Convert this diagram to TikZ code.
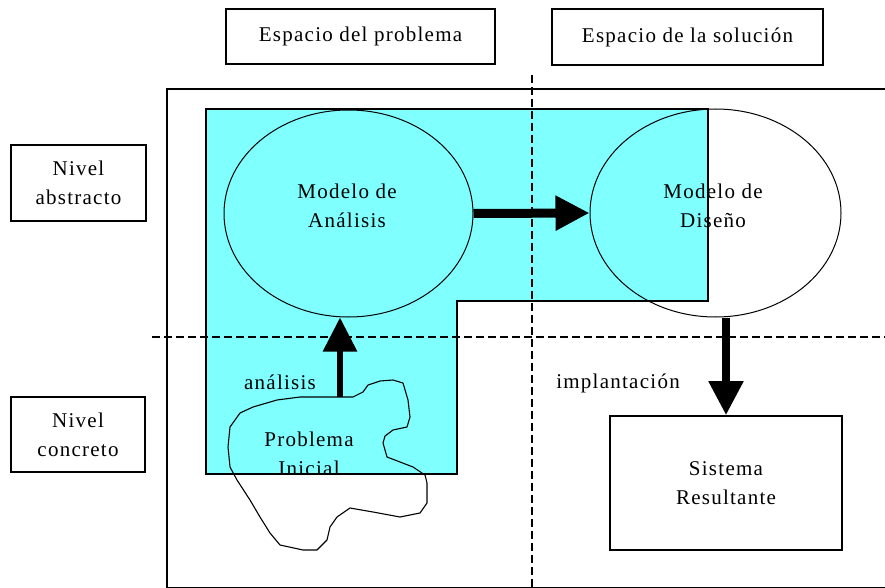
\documentclass[tikz,border=0pt]{standalone}
\usepackage{fontspec}
\setmainfont[LetterSpace=6]{Liberation Serif}
\usetikzlibrary{shapes.geometric,arrows.meta}
\definecolor{aqua}{RGB}{128,255,255}

\begin{document}
\begin{tikzpicture}[x=1pt,y=-1pt,
  txt/.style={font=\fontsize{21}{29}\selectfont, align=center, inner sep=0pt},
  headerbox/.style={draw, line width=1.6pt, inner sep=0pt, font=\fontsize{21}{29}\selectfont, align=center},
  oval/.style={draw, ellipse, line width=1pt, inner sep=0pt},
  grid line/.style={dashed, line width=1.2pt, dash pattern=on 8pt off 4pt},
  bigarrow/.style={-{Triangle[length=34pt,width=33pt]}}
]
\useasboundingbox (0,0) rectangle (885,588);

% outer frame of the diagram area
\draw[line width=1.5pt] (167,89) rectangle (892,588);

% problem-space region (shaded)
\fill[aqua] (206,109) -- (708,109) -- (708,301) -- (457,301) -- (457,474) -- (206,474) -- cycle;
\draw[line width=1.5pt] (206,109) -- (708,109) -- (708,301) -- (457,301) -- (457,474) -- (206,474) -- cycle;

% quadrant separators
\draw[grid line] (152,337) -- (885,337);
\draw[grid line] (532,75) -- (532,588);

% column headers
\node[headerbox, minimum width=269pt, minimum height=55pt] (hprob) at (360.5,36.5) {Espacio del problema};
\node[headerbox, minimum width=271pt, minimum height=56pt] (hsol) at (687.5,37) {Espacio de la solución};

% row headers
\node[headerbox, minimum width=135pt, minimum height=76pt] (habs) at (78.5,183) {Nivel\\abstracto};
\node[headerbox, minimum width=134pt, minimum height=75pt] (hcon) at (78,434.5) {Nivel\\concreto};

% models
\node[oval, minimum width=249pt, minimum height=207pt] (ana) at (348.5,213.5) {};
\node[oval, minimum width=251pt, minimum height=208pt] (dis) at (715.5,213) {};
\node[txt] (anat) at (347,206) {Modelo de\\Análisis};
\node[txt] (dist) at (713,206) {Modelo de\\Diseño};

% resulting system
\node[draw, line width=1.6pt, minimum width=232pt, minimum height=134pt, txt] (sis) at (726,483) {Sistema\\Resultante};

% initial problem (irregular outline)
\draw[line width=1.1pt, line join=round]
  (340,397) -- (353,397) -- (363,392) -- (368,385) -- (380,381) -- (393,380) -- (403,383)
  -- (408,400) -- (410,417) -- (407,427) -- (393,430) -- (385,436) -- (383,443) -- (387,457)
  -- (413,467) -- (425,475) -- (427,483) -- (427,503) -- (420,513) -- (400,517) -- (373,512)
  -- (350,508) -- (337,517) -- (330,527) -- (327,540) -- (317,550) -- (303,550) -- (280,545)
  -- (270,533) -- (260,517) -- (250,500) -- (237,480) -- (230,467) -- (228,447) -- (230,427)
  -- (240,413) -- (253,407) -- (277,400) -- (300,397) -- cycle;
\coordinate (prob) at (340,397);
\begin{scope}
  \clip (206,109) -- (708,109) -- (708,301) -- (457,301) -- (457,474) -- (206,474) -- cycle;
  \node[txt] (probt) at (309,454) {Problema\\Inicial};
\end{scope}
\draw[line width=1.5pt] (206,474) -- (457,474);

% transitions
\draw[bigarrow, line width=9pt] (ana.east) -- (dis.west);
\draw[bigarrow, line width=6pt] (prob) -- (prob |- ana.south);
\draw[bigarrow, line width=8pt] (dis.south -| sis.north) -- (sis.north);

\node[txt] (lana) at (280,382) {análisis};
\node[txt] (limp) at (618,383) {implantación};
\end{tikzpicture}
\end{document}
